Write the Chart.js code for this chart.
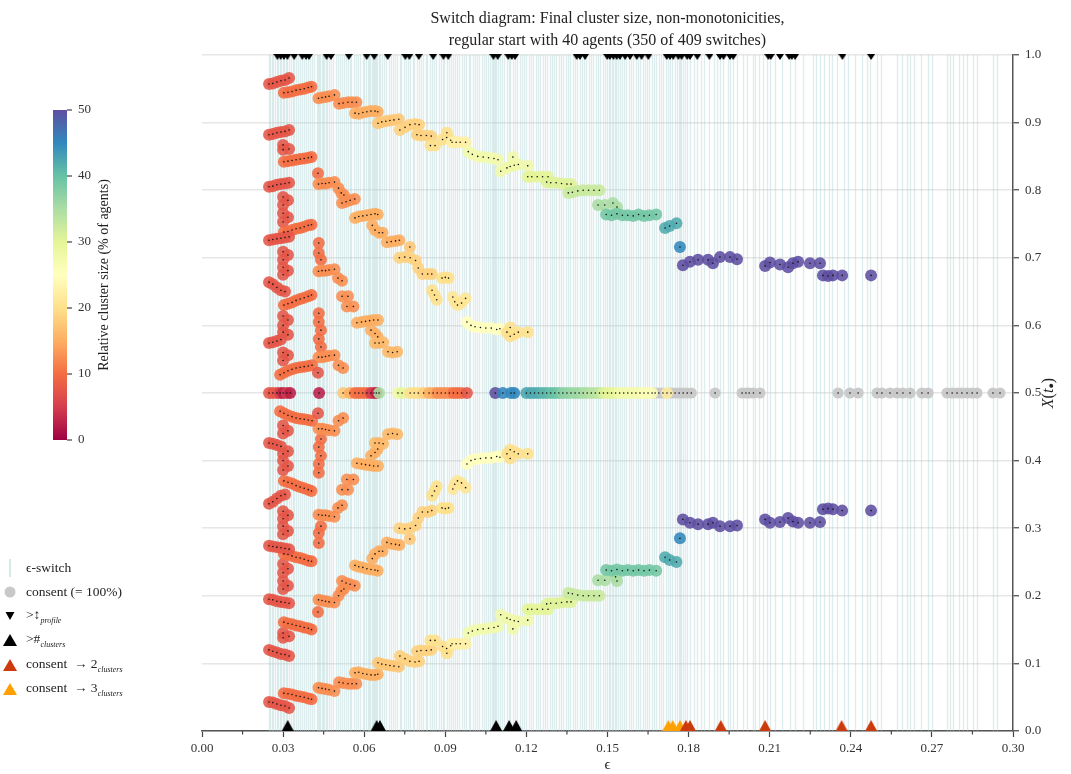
<!DOCTYPE html>
<html>
<head>
<meta charset="utf-8">
<script src="https://cdn.jsdelivr.net/npm/chart.js@4.4.0/dist/chart.umd.min.js"></script>
<style>
  body { margin: 0; background: #fff; font-family: "Liberation Serif", "DejaVu Serif", serif; }
  #wrap { position: relative; width: 1071px; height: 774px; }
  #title { position: absolute; left: 202px; width: 811px; top: 7px; text-align: center; font-size: 16px; line-height: 22px; color: #222; }
  #legend { position: absolute; left: 1px; top: 0; font-size: 13.5px; color: #222; }
  .row { position: absolute; left: 0; height: 20px; display: flex; align-items: center; white-space: nowrap; }
  .row svg { width: 18px; height: 18px; margin-right: 7px; }
  .row sub { font-style: italic; font-size: 8px; }
</style>
</head>
<body>
<div id="wrap">
  <canvas id="chart" width="1071" height="774"></canvas>
  <div id="title">Switch diagram: Final cluster size, non-monotonicities,<br>regular start with 40 agents (350 of 409 switches)</div>
  <div id="legend">
    <div class="row" style="top:558px"><svg viewBox="0 0 18 18"><rect x="8" y="0" width="2" height="18" fill="#d6eaea"/></svg><span>ϵ-switch</span></div>
    <div class="row" style="top:582px"><svg viewBox="0 0 18 18"><circle cx="9" cy="9" r="5.5" fill="#c8c8c8"/></svg><span>consent (= 100%)</span></div>
    <div class="row" style="top:606px"><svg viewBox="0 0 18 18"><polygon points="4.5,5 13.5,5 9,13" fill="#000"/></svg><span>&gt;↕<sub>profile</sub></span></div>
    <div class="row" style="top:630px"><svg viewBox="0 0 18 18"><polygon points="2,15 16,15 9,3" fill="#000"/></svg><span>&gt;#<sub>clusters</sub></span></div>
    <div class="row" style="top:655px"><svg viewBox="0 0 18 18"><polygon points="2,15 16,15 9,3" fill="#cc3a0c"/></svg><span>consent &nbsp;→ 2<sub>clusters</sub></span></div>
    <div class="row" style="top:679px"><svg viewBox="0 0 18 18"><polygon points="2,15 16,15 9,3" fill="#ffa000"/></svg><span>consent &nbsp;→ 3<sub>clusters</sub></span></div>
  </div>
</div>
<script>
// cluster tracks: [epsilon, final position X, cluster size in % of agents]
var outerUp = [
  [0.0248,0.957,7.5],[0.0262,0.958,7.5],[0.0277,0.960,7.5],[0.0292,0.962,7.5],[0.0307,0.963,7.5],[0.0322,0.966,7.5],
  [0.0303,0.944,10],[0.0318,0.945,10],[0.0333,0.946,10],[0.0348,0.948,10],[0.0363,0.949,10],[0.0378,0.950,10],[0.0393,0.952,10],[0.0405,0.953,10],
  [0.0431,0.936,12.5],[0.0444,0.937,12.5],[0.0457,0.938,12.5],[0.0470,0.939,12.5],[0.0490,0.941,12.5],
  [0.0507,0.928,12.5],[0.0522,0.929,12.5],[0.0540,0.930,12.5],[0.0555,0.930,12.5],[0.0571,0.930,12.5],
  [0.0566,0.914,15],[0.0580,0.913,15],[0.0595,0.915,15],[0.0610,0.916,15],[0.0625,0.917,15],[0.0640,0.917,15],[0.0650,0.916,15],
  [0.0651,0.899,17.5],[0.0665,0.901,17.5],[0.0680,0.902,17.5],[0.0695,0.903,17.5],[0.0710,0.904,17.5],[0.0728,0.905,17.5],
  [0.0732,0.889,18.5],[0.0751,0.893,18.5],[0.0769,0.897,18.5],[0.0788,0.898,18.5],[0.0803,0.897,18.5],
  [0.0795,0.882,18.5],[0.0810,0.881,18.5],[0.0830,0.881,18.5],[0.0848,0.880,18.5],
  [0.0845,0.866,20],[0.0862,0.866,20],[0.0890,0.875,20],[0.0905,0.878,20],[0.0920,0.874,20],[0.0906,0.885,20],
  [0.0925,0.871,22.5],[0.0940,0.871,22.5],[0.0955,0.871,22.5],[0.0975,0.871,22.5],
  [0.0985,0.857,27.5],[0.1000,0.853,27.5],[0.1020,0.850,27.5],[0.1040,0.849,27.5],[0.1060,0.848,27.5],[0.1080,0.847,27.5],[0.1095,0.845,27.5],
  [0.1105,0.828,28],[0.1128,0.833,28],[0.1140,0.835,28],[0.1155,0.837,28],[0.1170,0.838,28],[0.1150,0.849,28],[0.1205,0.836,28],
  [0.1205,0.820,30],[0.1220,0.820,30],[0.1240,0.820,30],[0.1260,0.820,30],[0.1280,0.820,30],
  [0.1275,0.812,30.5],[0.1290,0.811,30.5],[0.1310,0.811,30.5],[0.1330,0.810,30.5],[0.1350,0.809,30.5],[0.1365,0.809,30.5],
  [0.1355,0.796,32.5],[0.1370,0.797,32.5],[0.1390,0.799,32.5],[0.1410,0.800,32.5],[0.1430,0.800,32.5],[0.1450,0.800,32.5],[0.1470,0.800,32.5],
  [0.1465,0.778,35],[0.1490,0.778,35],[0.1520,0.781,35],[0.1535,0.775,35],
  [0.1495,0.764,39],[0.1515,0.763,39],[0.1535,0.765,39],[0.1555,0.763,39],[0.1575,0.763,39],[0.1595,0.762,39],[0.1615,0.764,39],[0.1635,0.762,39],[0.1655,0.763,39],[0.1680,0.764,39],
  [0.1713,0.744,42],[0.1730,0.747,42],[0.1755,0.751,42],
  [0.1768,0.716,45],
  [0.1779,0.689,50],[0.1805,0.694,50],[0.1835,0.697,50],[0.1872,0.697,50],[0.1890,0.692,50],[0.1916,0.701,50],[0.1953,0.701,50],[0.1979,0.698,50],
  [0.2083,0.688,50],[0.2101,0.693,50],[0.2138,0.690,50],[0.2168,0.686,50],[0.2186,0.692,50],[0.2205,0.694,50],
  [0.2249,0.692,50],[0.2286,0.692,50],[0.2297,0.674,50],[0.2316,0.673,50],[0.2334,0.674,50],[0.2368,0.674,50],[0.2475,0.674,50]
];
var outerDown = [
  [0.0248,0.043,7.5],[0.0262,0.042,7.5],[0.0277,0.040,7.5],[0.0292,0.038,7.5],[0.0307,0.037,7.5],[0.0322,0.034,7.5],
  [0.0303,0.056,10],[0.0318,0.055,10],[0.0333,0.054,10],[0.0348,0.052,10],[0.0363,0.051,10],[0.0378,0.050,10],[0.0393,0.048,10],[0.0405,0.047,10],
  [0.0431,0.064,12.5],[0.0444,0.063,12.5],[0.0457,0.062,12.5],[0.0470,0.061,12.5],[0.0490,0.059,12.5],
  [0.0507,0.072,12.5],[0.0522,0.071,12.5],[0.0540,0.070,12.5],[0.0555,0.070,12.5],[0.0571,0.070,12.5],
  [0.0566,0.086,15],[0.0580,0.087,15],[0.0595,0.085,15],[0.0610,0.084,15],[0.0625,0.083,15],[0.0640,0.083,15],[0.0650,0.084,15],
  [0.0651,0.101,17.5],[0.0665,0.099,17.5],[0.0680,0.098,17.5],[0.0695,0.097,17.5],[0.0710,0.096,17.5],[0.0728,0.095,17.5],
  [0.0732,0.111,18.5],[0.0751,0.107,18.5],[0.0769,0.103,18.5],[0.0788,0.102,18.5],[0.0803,0.103,18.5],
  [0.0795,0.118,18.5],[0.0810,0.119,18.5],[0.0830,0.119,18.5],[0.0848,0.120,18.5],
  [0.0845,0.134,20],[0.0862,0.134,20],[0.0890,0.125,20],[0.0905,0.122,20],[0.0920,0.126,20],[0.0906,0.115,20],
  [0.0925,0.129,22.5],[0.0940,0.129,22.5],[0.0955,0.129,22.5],[0.0975,0.129,22.5],
  [0.0985,0.145,27.5],[0.1000,0.148,27.5],[0.1020,0.150,27.5],[0.1040,0.151,27.5],[0.1060,0.152,27.5],[0.1080,0.153,27.5],[0.1095,0.155,27.5],
  [0.1105,0.172,28],[0.1128,0.167,28],[0.1140,0.165,28],[0.1155,0.163,28],[0.1170,0.162,28],[0.1150,0.151,28],[0.1205,0.164,28],
  [0.1205,0.180,30],[0.1220,0.180,30],[0.1240,0.180,30],[0.1260,0.180,30],[0.1280,0.180,30],
  [0.1275,0.188,30.5],[0.1290,0.189,30.5],[0.1310,0.189,30.5],[0.1330,0.190,30.5],[0.1350,0.191,30.5],[0.1365,0.191,30.5],
  [0.1355,0.204,32.5],[0.1370,0.203,32.5],[0.1390,0.201,32.5],[0.1410,0.200,32.5],[0.1430,0.200,32.5],[0.1450,0.200,32.5],[0.1470,0.200,32.5],
  [0.1465,0.223,35],[0.1490,0.223,35],[0.1530,0.228,35],[0.1535,0.222,35],
  [0.1495,0.238,39],[0.1515,0.237,39],[0.1535,0.239,39],[0.1555,0.237,39],[0.1575,0.238,39],[0.1595,0.237,39],[0.1615,0.238,39],[0.1635,0.237,39],[0.1655,0.238,39],[0.1680,0.237,39],
  [0.1713,0.257,42],[0.1730,0.253,42],[0.1755,0.250,42],
  [0.1768,0.285,45],
  [0.1779,0.313,50],[0.1805,0.308,50],[0.1835,0.306,50],[0.1872,0.306,50],[0.1890,0.308,50],[0.1916,0.303,50],[0.1953,0.303,50],[0.1979,0.304,50],
  [0.2083,0.313,50],[0.2101,0.308,50],[0.2138,0.309,50],[0.2168,0.315,50],[0.2186,0.310,50],[0.2205,0.308,50],
  [0.2249,0.308,50],[0.2286,0.309,50],[0.2297,0.328,50],[0.2316,0.329,50],[0.2334,0.328,50],[0.2368,0.326,50],[0.2475,0.326,50]
];
var branchBUp = [
  [0.0248,0.882,7.5],[0.0262,0.883,7.5],[0.0277,0.885,7.5],[0.0292,0.886,7.5],[0.0307,0.887,7.5],[0.0322,0.889,7.5],
  [0.0300,0.867,7.5],[0.0300,0.860,7.5],[0.0322,0.861,7.5],
  [0.0303,0.842,10],[0.0318,0.843,10],[0.0333,0.844,10],[0.0348,0.845,10],[0.0363,0.846,10],[0.0378,0.847,10],[0.0393,0.848,10],[0.0405,0.849,10],
  [0.0429,0.825,10],
  [0.0431,0.809,12.5],[0.0444,0.810,12.5],[0.0457,0.810,12.5],[0.0470,0.811,12.5],[0.0490,0.812,12.5],
  [0.0505,0.803,12.5],[0.0515,0.796,12.5],[0.0525,0.793,12.5],
  [0.0518,0.781,12.5],[0.0533,0.783,12.5],[0.0548,0.785,12.5],[0.0565,0.787,12.5],
  [0.0566,0.759,15],[0.0580,0.761,15],[0.0595,0.762,15],[0.0610,0.763,15],[0.0625,0.764,15],[0.0640,0.765,15],[0.0650,0.764,15],
  [0.0630,0.748,15],[0.0640,0.741,15],[0.0655,0.737,15],[0.0668,0.737,15],
  [0.0684,0.723,15],[0.0700,0.724,15],[0.0716,0.725,15],[0.0730,0.726,15],
  [0.0769,0.716,17.5],
  [0.0730,0.700,18.5],[0.0750,0.701,18.5],[0.0770,0.700,18.5],[0.0790,0.696,18.5],[0.0800,0.685,18.5],[0.0815,0.676,18.5],[0.0835,0.676,18.5],[0.0850,0.676,18.5],
  [0.0888,0.670,20],[0.0900,0.671,20],[0.0912,0.670,20],
  [0.0851,0.652,20],[0.0860,0.645,20],[0.0868,0.638,20],
  [0.0928,0.642,21],[0.0935,0.635,21],[0.0945,0.630,21],[0.0960,0.633,21],[0.0975,0.640,21],
  [0.0980,0.605,25],[0.0995,0.600,25],[0.1010,0.598,25],[0.1030,0.597,25],[0.1050,0.596,25],[0.1070,0.596,25],[0.1090,0.594,25],[0.1102,0.595,25],
  [0.1128,0.590,20],[0.1140,0.584,20],[0.1155,0.587,20],[0.1170,0.590,20],[0.1140,0.597,20],[0.1205,0.590,20]
];
var branchBDown = [
  [0.0248,0.120,7.5],[0.0262,0.118,7.5],[0.0277,0.116,7.5],[0.0292,0.114,7.5],[0.0307,0.113,7.5],[0.0322,0.111,7.5],
  [0.0300,0.138,7.5],[0.0300,0.145,7.5],[0.0322,0.140,7.5],
  [0.0303,0.161,10],[0.0318,0.159,10],[0.0333,0.158,10],[0.0348,0.156,10],[0.0363,0.155,10],[0.0378,0.153,10],[0.0393,0.152,10],[0.0405,0.150,10],
  [0.0429,0.176,10],
  [0.0431,0.194,12.5],[0.0444,0.193,12.5],[0.0457,0.192,12.5],[0.0470,0.191,12.5],[0.0490,0.190,12.5],
  [0.0505,0.200,12.5],[0.0515,0.207,12.5],[0.0525,0.210,12.5],
  [0.0518,0.222,12.5],[0.0533,0.219,12.5],[0.0548,0.217,12.5],[0.0565,0.215,12.5],
  [0.0566,0.245,15],[0.0580,0.243,15],[0.0595,0.242,15],[0.0610,0.240,15],[0.0625,0.239,15],[0.0640,0.238,15],[0.0650,0.237,15],
  [0.0630,0.255,15],[0.0640,0.262,15],[0.0655,0.266,15],[0.0668,0.266,15],
  [0.0684,0.279,15],[0.0700,0.277,15],[0.0716,0.276,15],[0.0730,0.275,15],
  [0.0769,0.284,17.5],
  [0.0730,0.300,18.5],[0.0750,0.299,18.5],[0.0770,0.300,18.5],[0.0790,0.304,18.5],[0.0800,0.315,18.5],[0.0815,0.324,18.5],[0.0835,0.324,18.5],[0.0850,0.326,18.5],
  [0.0888,0.330,20],[0.0900,0.329,20],[0.0912,0.330,20],
  [0.0851,0.348,20],[0.0860,0.355,20],[0.0868,0.362,20],
  [0.0928,0.358,21],[0.0935,0.365,21],[0.0945,0.370,21],[0.0960,0.367,21],[0.0975,0.360,21],
  [0.0980,0.395,25],[0.0995,0.400,25],[0.1010,0.402,25],[0.1030,0.403,25],[0.1050,0.404,25],[0.1070,0.404,25],[0.1090,0.406,25],[0.1102,0.405,25],
  [0.1128,0.410,20],[0.1140,0.416,20],[0.1155,0.413,20],[0.1170,0.410,20],[0.1140,0.403,20],[0.1205,0.410,20]
];
var branchCUp = [
  [0.0248,0.805,7.5],[0.0262,0.806,7.5],[0.0277,0.808,7.5],[0.0292,0.809,7.5],[0.0307,0.810,7.5],[0.0322,0.811,7.5],
  [0.0300,0.790,7.5],[0.0318,0.785,7.5],[0.0300,0.778,7.5],
  [0.0300,0.766,7.5],[0.0318,0.760,7.5],[0.0300,0.753,7.5],
  [0.0303,0.738,10],[0.0318,0.739,10],[0.0333,0.741,10],[0.0348,0.743,10],[0.0363,0.744,10],[0.0378,0.746,10],[0.0393,0.748,10],[0.0405,0.749,10],
  [0.0432,0.722,10],[0.0432,0.707,10],[0.0440,0.697,10],
  [0.0431,0.680,12.5],[0.0444,0.681,12.5],[0.0457,0.681,12.5],[0.0470,0.682,12.5],[0.0490,0.683,12.5],
  [0.0503,0.670,12.5],[0.0518,0.666,12.5],
  [0.0518,0.643,12.5],[0.0540,0.643,12.5],
  [0.0536,0.628,12.5],[0.0560,0.628,12.5],
  [0.0573,0.604,15],[0.0590,0.605,15],[0.0605,0.606,15],[0.0620,0.607,15],[0.0635,0.608,15],[0.0651,0.608,15],
  [0.0625,0.593,15],[0.0640,0.588,15],[0.0650,0.583,15],
  [0.0640,0.574,16],[0.0655,0.574,16],[0.0670,0.575,16],
  [0.0688,0.561,16],[0.0705,0.560,16],[0.0722,0.561,16]
];
var branchCDown = [
  [0.0248,0.195,7.5],[0.0262,0.194,7.5],[0.0277,0.192,7.5],[0.0292,0.191,7.5],[0.0307,0.190,7.5],[0.0322,0.189,7.5],
  [0.0300,0.210,7.5],[0.0318,0.215,7.5],[0.0300,0.222,7.5],
  [0.0300,0.234,7.5],[0.0318,0.240,7.5],[0.0300,0.247,7.5],
  [0.0303,0.262,10],[0.0318,0.261,10],[0.0333,0.259,10],[0.0348,0.257,10],[0.0363,0.256,10],[0.0378,0.254,10],[0.0393,0.252,10],[0.0405,0.251,10],
  [0.0432,0.278,10],[0.0432,0.293,10],[0.0440,0.303,10],
  [0.0431,0.320,12.5],[0.0444,0.319,12.5],[0.0457,0.319,12.5],[0.0470,0.318,12.5],[0.0490,0.317,12.5],
  [0.0503,0.330,12.5],[0.0518,0.334,12.5],
  [0.0518,0.357,12.5],[0.0540,0.357,12.5],
  [0.0536,0.372,12.5],[0.0560,0.372,12.5],
  [0.0573,0.396,15],[0.0590,0.395,15],[0.0605,0.394,15],[0.0620,0.393,15],[0.0635,0.392,15],[0.0651,0.392,15],
  [0.0625,0.407,15],[0.0640,0.412,15],[0.0650,0.417,15],
  [0.0640,0.426,16],[0.0655,0.426,16],[0.0670,0.425,16],
  [0.0688,0.439,16],[0.0705,0.440,16],[0.0722,0.439,16]
];
var branchDUp = [
  [0.0248,0.726,7.5],[0.0262,0.727,7.5],[0.0277,0.728,7.5],[0.0292,0.729,7.5],[0.0307,0.730,7.5],[0.0322,0.731,7.5],
  [0.0300,0.709,7.5],[0.0318,0.704,7.5],[0.0300,0.697,7.5],
  [0.0300,0.686,7.5],[0.0318,0.681,7.5],[0.0300,0.675,7.5],
  [0.0248,0.664,7.5],[0.0262,0.661,7.5],[0.0277,0.656,7.5],[0.0292,0.652,7.5],[0.0307,0.650,7.5],
  [0.0303,0.630,10],[0.0318,0.632,10],[0.0333,0.634,10],[0.0348,0.637,10],[0.0363,0.639,10],[0.0378,0.641,10],[0.0393,0.643,10],[0.0405,0.645,10],
  [0.0300,0.614,7.5],[0.0318,0.608,7.5],[0.0300,0.600,7.5],
  [0.0248,0.574,7.5],[0.0262,0.575,7.5],[0.0277,0.577,7.5],[0.0292,0.579,7.5],[0.0300,0.590,7.5],[0.0318,0.586,7.5],[0.0300,0.560,7.5],[0.0318,0.556,7.5],
  [0.0432,0.618,10],[0.0432,0.605,10],[0.0440,0.593,10],[0.0432,0.580,10],[0.0440,0.568,10],
  [0.0431,0.553,12.5],[0.0444,0.553,12.5],[0.0457,0.554,12.5],[0.0470,0.555,12.5],[0.0490,0.556,12.5],
  [0.0505,0.541,12.5],[0.0522,0.537,12.5],
  [0.0289,0.527,10],[0.0303,0.530,10],[0.0318,0.533,10],[0.0333,0.535,10],[0.0348,0.537,10],[0.0363,0.538,10],[0.0378,0.539,10],[0.0393,0.540,10],[0.0407,0.541,10],
  [0.0300,0.548,7.5],[0.0429,0.530,7.5]
];
var branchDDown = [
  [0.0248,0.274,7.5],[0.0262,0.273,7.5],[0.0277,0.272,7.5],[0.0292,0.271,7.5],[0.0307,0.270,7.5],[0.0322,0.269,7.5],
  [0.0300,0.291,7.5],[0.0318,0.296,7.5],[0.0300,0.303,7.5],
  [0.0300,0.314,7.5],[0.0318,0.319,7.5],[0.0300,0.325,7.5],
  [0.0248,0.336,7.5],[0.0262,0.339,7.5],[0.0277,0.344,7.5],[0.0292,0.348,7.5],[0.0307,0.350,7.5],
  [0.0303,0.370,10],[0.0318,0.368,10],[0.0333,0.366,10],[0.0348,0.363,10],[0.0363,0.361,10],[0.0378,0.359,10],[0.0393,0.357,10],[0.0405,0.355,10],
  [0.0300,0.386,7.5],[0.0318,0.392,7.5],[0.0300,0.400,7.5],
  [0.0248,0.426,7.5],[0.0262,0.425,7.5],[0.0277,0.423,7.5],[0.0292,0.421,7.5],[0.0300,0.410,7.5],[0.0318,0.414,7.5],[0.0300,0.440,7.5],[0.0318,0.444,7.5],
  [0.0432,0.382,10],[0.0432,0.395,10],[0.0440,0.407,10],[0.0432,0.420,10],[0.0440,0.432,10],
  [0.0431,0.447,12.5],[0.0444,0.447,12.5],[0.0457,0.446,12.5],[0.0470,0.445,12.5],[0.0490,0.444,12.5],
  [0.0505,0.459,12.5],[0.0522,0.463,12.5],
  [0.0289,0.473,10],[0.0303,0.470,10],[0.0318,0.467,10],[0.0333,0.465,10],[0.0348,0.463,10],[0.0363,0.462,10],[0.0378,0.461,10],[0.0393,0.460,10],[0.0407,0.459,10],
  [0.0300,0.452,7.5],[0.0429,0.470,7.5]
];
var centreRow = [
  [0.0248,0.5,7.5],[0.0262,0.5,7.5],[0.0277,0.5,7.5],[0.0289,0.5,5],[0.0300,0.5,2.5],[0.0314,0.5,5],[0.0326,0.5,2.5],
  [0.0433,0.5,2.5],
  [0.0522,0.5,17.5],[0.0547,0.5,15],[0.0566,0.5,10],[0.0580,0.5,10],[0.0595,0.5,10],[0.0610,0.5,10],[0.0625,0.5,5],[0.0636,0.5,5],[0.0645,0.5,2.5],[0.0655,0.5,35],
  [0.0725,0.5,28],[0.0740,0.5,30],[0.0770,0.5,20],[0.0785,0.5,20],[0.0800,0.5,20],[0.0820,0.5,18],[0.0840,0.5,15],[0.0855,0.5,15],
  [0.0870,0.5,12.5],[0.0885,0.5,12.5],[0.0900,0.5,12.5],[0.0915,0.5,12.5],[0.0930,0.5,10],[0.0945,0.5,10],[0.0960,0.5,10],[0.0980,0.5,7.5],
  [0.1085,0.5,50],[0.1113,0.5,45],[0.1143,0.5,45],[0.1155,0.5,45],
  [0.1200,0.5,42.5],[0.1215,0.5,42.5],[0.1230,0.5,42],[0.1245,0.5,42],[0.1260,0.5,41],[0.1275,0.5,41],[0.1290,0.5,40],[0.1305,0.5,40],[0.1320,0.5,39],
  [0.1335,0.5,37.5],[0.1350,0.5,37],[0.1365,0.5,36.5],[0.1380,0.5,36],[0.1395,0.5,36],[0.1410,0.5,35],[0.1425,0.5,35],[0.1440,0.5,34],[0.1455,0.5,34],[0.1470,0.5,33],
  [0.1485,0.5,31],[0.1500,0.5,30],[0.1515,0.5,30],[0.1530,0.5,29],
  [0.1545,0.5,27.5],[0.1560,0.5,27.5],[0.1575,0.5,27.5],[0.1590,0.5,27.5],[0.1605,0.5,27],[0.1620,0.5,27],[0.1635,0.5,26],[0.1650,0.5,26],[0.1665,0.5,26],
  [0.1720,0.5,22]
];
var consentEps = [0.1676,0.1690,0.1705,0.1735,0.1750,0.1765,0.1780,0.1795,0.1810,0.1898,0.1998,0.2012,0.2024,0.2040,0.2064,
  0.2353,0.2397,0.2427,0.2497,0.2515,0.2545,0.2571,0.2593,0.2619,0.2663,0.2686,0.2756,0.2775,0.2793,0.2811,0.2830,0.2849,0.2867,0.2926,0.2952];
var profileEps = [0.0279,0.0291,0.0303,0.0316,0.0341,0.0371,0.0385,0.0396,0.0461,0.0477,0.0543,0.0609,0.0637,0.0687,0.0752,0.0767,0.0802,0.0855,
  0.0893,0.0911,0.1078,0.1094,0.1133,0.1146,0.1158,0.1386,0.1398,0.1417,0.1499,0.1509,0.1522,0.1534,0.1546,0.1565,0.1583,0.1608,0.1626,0.1651,
  0.1719,0.1731,0.1743,0.1762,0.1774,0.1795,0.1805,0.1832,0.1877,0.1916,0.1929,0.1953,0.1965,0.2095,0.2104,0.2138,0.2172,0.2182,0.2194,0.2369,0.2475];
var moreClustersEps = [0.0317,0.0646,0.0658,0.1088,0.1136,0.1162];
var consentTwoEps = [0.1790,0.1805,0.1919,0.2083,0.2366,0.2475];
var consentThreeEps = [0.1725,0.1741,0.1768];
var switchEps = [0.0246,0.0252,0.0259,0.0263,0.0270,0.0276,0.0281,0.0288,0.0293,0.0299,0.0305,0.0311,0.0316,0.0322,0.0329,0.0336,0.0341,0.0349,
  0.0356,0.0362,0.0371,0.0378,0.0384,0.0392,0.0399,0.0408,0.0415,0.0424,0.0429,0.0434,0.0438,0.0443,0.0447,0.0452,0.0458,0.0464,0.0470,0.0477,
  0.0486,0.0494,0.0503,0.0509,0.0517,0.0526,0.0531,0.0540,0.0548,0.0553,0.0562,0.0570,0.0577,0.0585,0.0594,0.0601,0.0607,0.0614,0.0619,0.0623,
  0.0628,0.0633,0.0637,0.0641,0.0645,0.0649,0.0654,0.0659,0.0666,0.0675,0.0681,0.0690,0.0698,0.0707,0.0713,0.0722,0.0731,0.0737,0.0746,0.0753,
  0.0761,0.0770,0.0779,0.0785,0.0794,0.0801,0.0810,0.0818,0.0827,0.0833,0.0842,0.0851,0.0858,0.0866,0.0875,0.0884,0.0890,0.0897,0.0905,0.0912,
  0.0921,0.0930,0.0936,0.0945,0.0952,0.0960,0.0969,0.0977,0.0986,0.0993,0.1001,0.1010,0.1018,0.1025,0.1034,0.1042,0.1050,0.1057,0.1065,0.1072,
  0.1077,0.1081,0.1085,0.1089,0.1094,0.1101,0.1110,0.1118,0.1127,0.1134,0.1141,0.1149,0.1158,0.1166,0.1175,0.1183,0.1192,0.1200,0.1209,0.1218,
  0.1226,0.1235,0.1243,0.1252,0.1260,0.1269,0.1277,0.1286,0.1294,0.1303,0.1311,0.1320,0.1329,0.1337,0.1345,0.1354,0.1363,0.1371,0.1380,0.1388,
  0.1397,0.1405,0.1414,0.1422,0.1431,0.1440,0.1448,0.1457,0.1465,0.1474,0.1482,0.1491,0.1498,0.1505,0.1511,0.1517,0.1522,0.1527,0.1532,0.1538,
  0.1545,0.1553,0.1562,0.1570,0.1579,0.1587,0.1596,0.1604,0.1613,0.1621,0.1630,0.1638,0.1647,0.1655,0.1664,0.1672,0.1681,0.1689,0.1698,0.1706,
  0.1715,0.1723,0.1732,0.1740,0.1749,0.1757,0.1763,0.1768,0.1773,0.1779,0.1786,0.1795,0.1805,0.1820,0.1831,0.1846,0.1857,0.1876,0.1894,0.1905,
  0.1916,0.1929,0.1946,0.1953,0.1966,0.1980,0.2001,0.2016,0.2038,0.2045,0.2062,0.2075,0.2090,0.2101,0.2120,0.2146,0.2175,0.2194,0.2224,0.2260,
  0.2271,0.2286,0.2301,0.2319,0.2331,0.2349,0.2375,0.2390,0.2416,0.2442,0.2460,0.2471,0.2497,0.2512,0.2571,0.2590,0.2608,0.2619,0.2634,0.2660,
  0.2686,0.2701,0.2756,0.2767,0.2778,0.2800,0.2815,0.2830,0.2852,0.2867,0.2926,0.2941];
var xMinorTicks = [0.015,0.045,0.075,0.105,0.135,0.165,0.195,0.225,0.255,0.285];
var colorbarTicks = [0,10,20,30,40,50];

var FONT = '"Liberation Serif", "DejaVu Serif", serif';
var spec = ['#9e0142','#d53e4f','#f46d43','#fdae61','#fee08b','#ffffbf','#e6f598','#abdda4','#66c2a5','#3288bd','#5e4fa2'];

function hexRgb(h) {
  return [parseInt(h.substr(1,2),16), parseInt(h.substr(3,2),16), parseInt(h.substr(5,2),16)];
}
function spectral(v, a) {
  var t = Math.max(0, Math.min(1, v / 50)) * 10;
  var i = Math.min(9, Math.floor(t));
  var f = t - i;
  var c1 = hexRgb(spec[i]), c2 = hexRgb(spec[i + 1]);
  var r = Math.round(c1[0] + (c2[0] - c1[0]) * f);
  var g = Math.round(c1[1] + (c2[1] - c1[1]) * f);
  var b = Math.round(c1[2] + (c2[2] - c1[2]) * f);
  return 'rgba(' + r + ',' + g + ',' + b + ',' + a + ')';
}

function triangle(color, w, h, up) {
  // canvas twice the height so the base (or top edge) lands on the data point
  var c = document.createElement('canvas');
  c.width = w; c.height = h * 2;
  var g = c.getContext('2d');
  g.fillStyle = color;
  g.beginPath();
  if (up) { g.moveTo(w / 2, 0); g.lineTo(w, h); g.lineTo(0, h); }
  else { g.moveTo(0, h - 1); g.lineTo(w, h - 1); g.lineTo(w / 2, 2 * h - 1); }
  g.closePath();
  g.fill();
  return c;
}

var tracks = [outerUp, outerDown, branchBUp, branchBDown, branchCUp, branchCDown, branchDUp, branchDDown, centreRow];
var clusterPts = [];
tracks.forEach(function(t) {
  t.forEach(function(p) { clusterPts.push({x: p[0], y: p[1], s: p[2]}); });
});
var consentPts = consentEps.map(function(e) { return {x: e, y: 0.5}; });

var extras = {
  id: 'extras',
  beforeDatasetsDraw: function(chart) {
    var ctx = chart.ctx, area = chart.chartArea, xs = chart.scales.x;
    ctx.save();
    ctx.strokeStyle = 'rgba(175,212,212,0.42)';
    ctx.lineWidth = 1.3;
    switchEps.forEach(function(e) {
      var px = Math.round(xs.getPixelForValue(e)) + 0.5;
      ctx.beginPath();
      ctx.moveTo(px, area.top);
      ctx.lineTo(px, area.bottom);
      ctx.stroke();
    });
    ctx.restore();
  },
  afterDraw: function(chart) {
    var ctx = chart.ctx, area = chart.chartArea, xs = chart.scales.x;
    ctx.save();
    // minor ticks on the epsilon axis
    ctx.strokeStyle = '#444';
    ctx.lineWidth = 1.2;
    xMinorTicks.forEach(function(v) {
      var px = xs.getPixelForValue(v);
      ctx.beginPath();
      ctx.moveTo(px, area.bottom);
      ctx.lineTo(px, area.bottom + 3.5);
      ctx.stroke();
    });
    // colorbar
    var cx = 53, cw = 14, top = 110, bot = 440;
    var grad = ctx.createLinearGradient(0, bot, 0, top);
    spec.forEach(function(c, i) { grad.addColorStop(i / 10, c); });
    ctx.fillStyle = grad;
    ctx.fillRect(cx, top, cw, bot - top);
    ctx.fillStyle = '#333';
    ctx.font = '13px ' + FONT;
    ctx.textAlign = 'left';
    ctx.textBaseline = 'middle';
    colorbarTicks.forEach(function(v) {
      var py = bot - (v / 50) * (bot - top);
      ctx.beginPath();
      ctx.moveTo(cx + cw, py);
      ctx.lineTo(cx + cw + 5, py);
      ctx.stroke();
      ctx.fillText(String(v), cx + cw + 11, py);
    });
    ctx.save();
    ctx.translate(104, (top + bot) / 2);
    ctx.rotate(-Math.PI / 2);
    ctx.textAlign = 'center';
    ctx.font = '14px ' + FONT;
    ctx.fillStyle = '#222';
    ctx.fillText('Relative cluster size (% of agents)', 0, 0);
    ctx.restore();
    // right axis title X(t•)
    ctx.save();
    ctx.translate(1049, (area.top + area.bottom) / 2);
    ctx.rotate(-Math.PI / 2);
    ctx.fillStyle = '#222';
    ctx.textBaseline = 'middle';
    var parts = [['italic 16px ' + FONT, 'X', 0], ['16px ' + FONT, '(', 0], ['italic 16px ' + FONT, 't', 0], ['9px ' + FONT, '●', 3], ['16px ' + FONT, ')', 0]];
    var total = 0;
    parts.forEach(function(p) { ctx.font = p[0]; total += ctx.measureText(p[1]).width; });
    var x0 = -total / 2;
    ctx.textAlign = 'left';
    parts.forEach(function(p) {
      ctx.font = p[0];
      ctx.fillText(p[1], x0, p[2]);
      x0 += ctx.measureText(p[1]).width;
    });
    ctx.restore();
    ctx.restore();
  }
};

new Chart(document.getElementById('chart'), {
  type: 'scatter',
  data: {
    datasets: [
      { label: 'dots', data: clusterPts.concat(consentPts), pointRadius: 0.8, backgroundColor: '#111', borderWidth: 0 },
      { label: 'profile', data: profileEps.map(function(e) { return {x: e, y: 1}; }), pointStyle: triangle('#000', 8, 6, false), clip: false },
      { label: 'clusters', data: moreClustersEps.map(function(e) { return {x: e, y: 0}; }), pointStyle: triangle('#000', 12, 11, true), clip: false },
      { label: 'two', data: consentTwoEps.map(function(e) { return {x: e, y: 0}; }), pointStyle: triangle('#cc3a0c', 12, 11, true), clip: false },
      { label: 'three', data: consentThreeEps.map(function(e) { return {x: e, y: 0}; }), pointStyle: triangle('#ffa000', 12, 11, true), clip: false },
      { label: 'size', data: clusterPts, pointRadius: 6, borderWidth: 0,
        backgroundColor: function(c) { return c.raw ? spectral(c.raw.s, 0.88) : '#000'; } },
      { label: 'consent', data: consentPts, pointRadius: 5.6, borderWidth: 0, backgroundColor: 'rgba(200,200,200,0.95)' }
    ]
  },
  options: {
    responsive: false,
    animation: false,
    events: [],
    layout: { padding: { left: 202, top: 55, right: 0, bottom: 0 } },
    plugins: { legend: { display: false }, tooltip: { enabled: false } },
    scales: {
      x: {
        type: 'linear', min: 0, max: 0.3,
        afterFit: function(s) { s.height = 43; },
        ticks: { stepSize: 0.03, autoSkip: false, maxRotation: 0, padding: 4, color: '#333',
          font: { family: FONT, size: 13 }, callback: function(v) { return v.toFixed(2); } },
        grid: { drawOnChartArea: false, drawTicks: true, tickLength: 6, tickColor: '#444', tickWidth: 1.2 },
        border: { display: true, color: '#555', width: 1.5 },
        title: { display: true, text: 'ϵ', color: '#222', font: { family: FONT, size: 15 }, padding: { top: 5, bottom: 0 } }
      },
      y: {
        position: 'right', min: 0, max: 1,
        afterFit: function(s) { s.width = 58; },
        ticks: { stepSize: 0.1, padding: 6, color: '#333', font: { family: FONT, size: 13 },
          callback: function(v) { return v.toFixed(1); } },
        grid: { color: '#e6e6e6', lineWidth: 1.5, tickColor: '#444', tickLength: 6, tickWidth: 1.2 },
        border: { display: true, color: '#555', width: 1.5 }
      }
    }
  },
  plugins: [extras]
});
</script>
</body>
</html>
